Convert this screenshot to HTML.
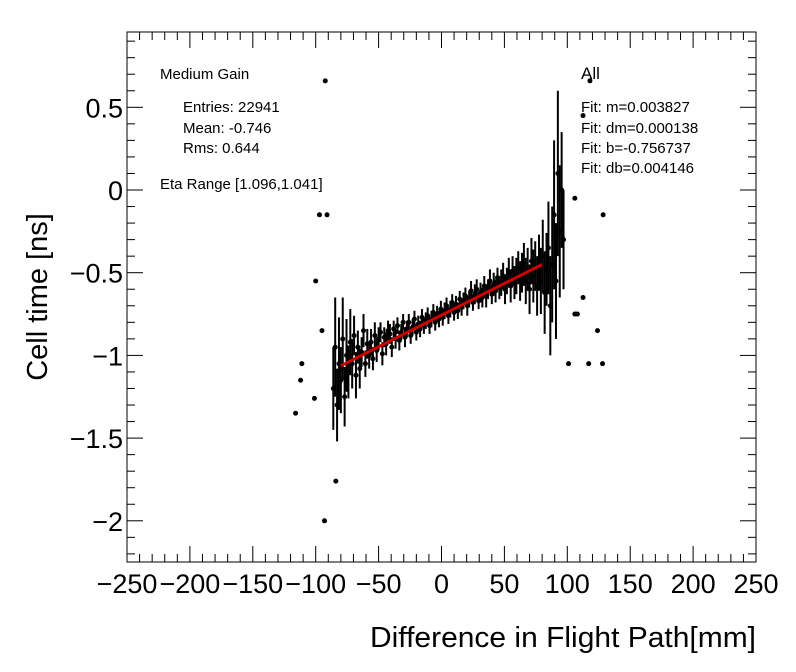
<!DOCTYPE html>
<html><head><meta charset="utf-8"><style>
body{margin:0;background:#fff}
svg{display:block;font-family:"Liberation Sans",Arial,sans-serif}
</style></head><body>
<svg id="chart" width="796" height="672" viewBox="0 0 796 672">
<rect width="796" height="672" fill="#fff"/>
<g id="axes"></g>
<g id="marks"></g>
<g id="fitg"></g>
<text x="0" y="0" transform="translate(47,297) rotate(-90)" text-anchor="middle" font-size="29">Cell time [ns]</text>
<text x="756" y="647" text-anchor="end" font-size="29" textLength="386" lengthAdjust="spacingAndGlyphs">Difference in Flight Path[mm]</text>
<g font-size="15">
<text x="160" y="79">Medium Gain</text>
<text x="183" y="112">Entries: 22941</text>
<text x="183" y="133">Mean: -0.746</text>
<text x="183" y="153">Rms: 0.644</text>
<text x="160" y="189">Eta Range [1.096,1.041]</text>
<text x="581" y="79" font-size="17">All</text>
<text x="581" y="112">Fit: m=0.003827</text>
<text x="581" y="133">Fit: dm=0.000138</text>
<text x="581" y="153">Fit: b=-0.756737</text>
<text x="581" y="173">Fit: db=0.004146</text>
</g>
</svg>
<script>
const xStart=-86, xStep=1.5;
const yVals=[
-1.20,-0.95,-1.30,-1.05,-1.15,-0.90,-1.25,-1.00,-1.10,-0.92,
-1.05,-0.88,-1.12,-0.95,-1.08,-0.98,-0.85,-1.05,-0.93,-1.00,
-0.92,-1.02,-0.88,-0.97,-0.90,-0.86,-0.99,-0.89,-0.93,-0.85,
-0.87,-0.95,-0.84,-0.90,-0.82,-0.91,-0.86,-0.80,-0.89,-0.84,
-0.80,-0.88,-0.83,-0.78,-0.86,-0.81,-0.84,-0.77,-0.82,-0.79,
-0.76,-0.82,-0.78,-0.74,-0.80,-0.75,-0.78,-0.72,-0.77,-0.73,
-0.70,-0.76,-0.72,-0.68,-0.74,-0.69,-0.73,-0.66,-0.71,-0.67,
-0.64,-0.70,-0.66,-0.61,-0.68,-0.63,-0.60,-0.67,-0.62,-0.65,
-0.58,-0.64,-0.60,-0.55,-0.63,-0.57,-0.61,-0.53,-0.59,-0.56,
-0.52,-0.60,-0.55,-0.50,-0.58,-0.49,-0.56,-0.52,-0.47,-0.55,
-0.50,-0.45,-0.55,-0.48,-0.60,-0.43,-0.52,-0.46,-0.58,-0.44,
-0.55,-0.40,-0.62,-0.48,-0.35,-0.70,-0.45,-0.15,-0.55,0.10,
-0.25,0.00,-0.30];
const yErrs=[
0.25,0.30,0.22,0.28,0.20,0.25,0.18,0.22,0.16,0.20,
0.15,0.12,0.14,0.10,0.12,0.09,0.10,0.08,0.09,0.08,
0.08,0.07,0.08,0.07,0.07,0.06,0.07,0.06,0.07,0.06,
0.06,0.06,0.05,0.06,0.05,0.06,0.05,0.05,0.06,0.05,
0.05,0.05,0.05,0.05,0.05,0.05,0.05,0.05,0.05,0.05,
0.05,0.05,0.05,0.05,0.05,0.05,0.05,0.05,0.05,0.05,
0.05,0.05,0.05,0.05,0.05,0.05,0.05,0.05,0.05,0.05,
0.05,0.06,0.05,0.06,0.05,0.06,0.06,0.05,0.06,0.06,
0.06,0.07,0.06,0.07,0.06,0.07,0.07,0.06,0.07,0.08,
0.08,0.09,0.08,0.09,0.10,0.09,0.10,0.11,0.10,0.12,
0.12,0.13,0.14,0.13,0.15,0.14,0.16,0.15,0.18,0.17,
0.20,0.22,0.25,0.22,0.28,0.30,0.35,0.45,0.35,0.50,
0.40,0.35,0.30];
const outX=[-92.4,-97,-91,-100,-95,-111,-112,-101,-116,-84,-93,106,112.5,118,128.5,112.5,106,108,124,101,117,128];
const outY=[0.66,-0.15,-0.15,-0.55,-0.85,-1.05,-1.15,-1.26,-1.35,-1.76,-2.0,-0.05,0.45,0.66,-0.15,-0.65,-0.75,-0.75,-0.85,-1.05,-1.05,-1.05];
const xTicks=[-250,-200,-150,-100,-50,0,50,100,150,200,250];
const yTicks=[0.5,0,-0.5,-1,-1.5,-2];
const fitM=0.003827, fitB=-0.756737, fitRange=[-80,80];

const L=127,R=756,T=32,B=562;
const sx=v=>L+(v+250)/500*(R-L);
const sy=v=>190-v*165.4;
const NS="http://www.w3.org/2000/svg";
function mk(tag,attrs,parent){const e=document.createElementNS(NS,tag);for(const k in attrs)e.setAttribute(k,attrs[k]);parent.appendChild(e);return e;}
const ax=document.getElementById('axes');
const fr=mk('rect',{x:L,y:T,width:R-L,height:B-T,fill:'none',stroke:'#000','stroke-width':1},ax);


for(let v=-250;v<=250;v+=10){
  const major=v%50===0, len=major?16:8, x=sx(v);
  const t1=mk('line',{x1:x,x2:x,y1:B,y2:B-len,stroke:'#000'},ax);
  
  
  const t2=mk('line',{x1:x,x2:x,y1:T,y2:T+len,stroke:'#000'},ax);
  
  
}
xTicks.forEach(v=>{const t=mk('text',{x:sx(v),y:593,'text-anchor':'middle','font-size':27},ax);t.textContent=String(v).replace('-','\u2212');

});
for(let i=-22;i<=9;i++){
  const v=i/10; if(sy(v)<T||sy(v)>B)continue;
  const major=i%5===0,len=major?16:8,y=sy(v);
  const t1=mk('line',{x1:L,x2:L+len,y1:y,y2:y,stroke:'#000'},ax);
  
  
  const t2=mk('line',{x1:R,x2:R-len,y1:y,y2:y,stroke:'#000'},ax);
  
  
}
yTicks.forEach(v=>{const t=mk('text',{x:123,y:sy(v)+10,'text-anchor':'end','font-size':27},ax);t.textContent=String(v).replace('-','\u2212');

});
const mg=document.getElementById('marks');
yVals.forEach((yv,i)=>{
  const x=xStart+i*xStep;
  const px=sx(x),py=sy(yv);
  const l=mk('line',{x1:px,x2:px,y1:sy(yv+yErrs[i]),y2:sy(yv-yErrs[i]),stroke:'#000','stroke-width':2},mg);
  
  
  const c=mk('circle',{cx:px,cy:py,r:2.5,fill:'#000'},mg);
  
  
});
outX.forEach((x,i)=>{
  const c=mk('circle',{cx:sx(x),cy:sy(outY[i]),r:2.5,fill:'#000'},mg);
  
  
});
const fg=document.getElementById('fitg');
const fl=mk('line',{x1:sx(fitRange[0]),y1:sy(fitB+fitM*fitRange[0]),x2:sx(fitRange[1]),y2:sy(fitB+fitM*fitRange[1]),stroke:'#cc0000','stroke-width':3},fg);


</script>
</body></html>
